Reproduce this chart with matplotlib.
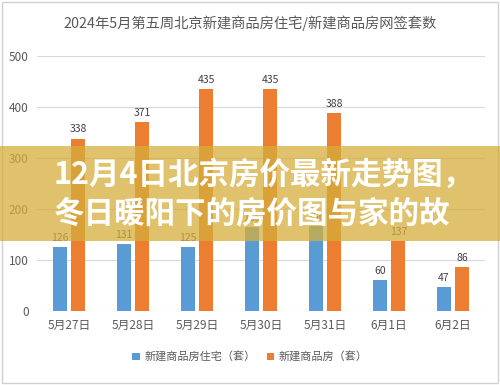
import matplotlib.pyplot as plt
from matplotlib.patches import Rectangle
import numpy as np

plt.rcParams['font.family'] = ['Noto Sans CJK SC', 'DejaVu Sans']

dates = ['5月27日', '5月28日', '5月29日', '5月30日', '5月31日', '6月1日', '6月2日']
zhuzhai = [126, 131, 125, 165, 166, 60, 47]
shangpin = [338, 371, 435, 435, 388, 137, 86]
series_names = ['新建商品房住宅（套）', '新建商品房（套）']
title = '2024年5月第五周北京新建商品房住宅/新建商品房网签套数'
banner_lines = ['12月4日北京房价最新走势图，', '冬日暖阳下的房价图与家的故']

blue = '#5b9bd5'
orange = '#ed7d31'

fig = plt.figure(figsize=(5, 3.85), dpi=100)
ax = fig.add_axes([0.074, 0.192, 0.896, 0.663])

x = np.arange(len(dates))
w = 0.22
b1 = ax.bar(x - 0.145, zhuzhai, w, color=blue, label=series_names[0], zorder=2)
b2 = ax.bar(x + 0.145, shangpin, w, color=orange, label=series_names[1], zorder=2)
for bars in (b1, b2):
    for r in bars:
        ax.text(r.get_x() + r.get_width() / 2, r.get_height() + 8, str(int(r.get_height())),
                ha='center', va='bottom', fontsize=7.5, color='#404040')

ax.set_xlim(-0.5, len(dates) - 0.5)
ax.set_ylim(0, 500)
ax.set_yticks([0, 100, 200, 300, 400, 500])
ax.set_xticks(x)
ax.set_xticklabels(dates)
ax.grid(axis='y', color='#d9d9d9', linewidth=0.8, zorder=0)
for s in ax.spines.values():
    s.set_visible(False)
ax.tick_params(axis='both', length=0, labelsize=8.5, colors='#595959')
ax.tick_params(axis='x', pad=6)
ax.tick_params(axis='y', pad=6)

fig.text(0.5, 0.94, title, ha='center', va='center', fontsize=10.3, color='#595959')
fig.legend(loc='center', bbox_to_anchor=(0.5, 0.073), ncol=2, frameon=False,
           fontsize=8, handlelength=0.7, handleheight=0.7, columnspacing=1.0,
           handletextpad=0.4, labelcolor='#595959')

# frame
fig.patches.append(Rectangle((0.004, 0.005), 0.992, 0.99, transform=fig.transFigure,
                             fill=False, edgecolor='#d0d0d0', linewidth=1))
# overlay banner
fig.patches.append(Rectangle((0, 0.374), 1, 0.247, transform=fig.transFigure,
                             facecolor='#d6ae3c', alpha=0.75, edgecolor='none', zorder=5))
fig.text(0.108, 0.545, banner_lines[0], ha='left', va='center', fontsize=22,
         fontweight='bold', color='white', zorder=6)
fig.text(0.108, 0.445, banner_lines[1], ha='left', va='center', fontsize=22,
         fontweight='bold', color='white', zorder=6)

fig.savefig('out.png', dpi=100)
